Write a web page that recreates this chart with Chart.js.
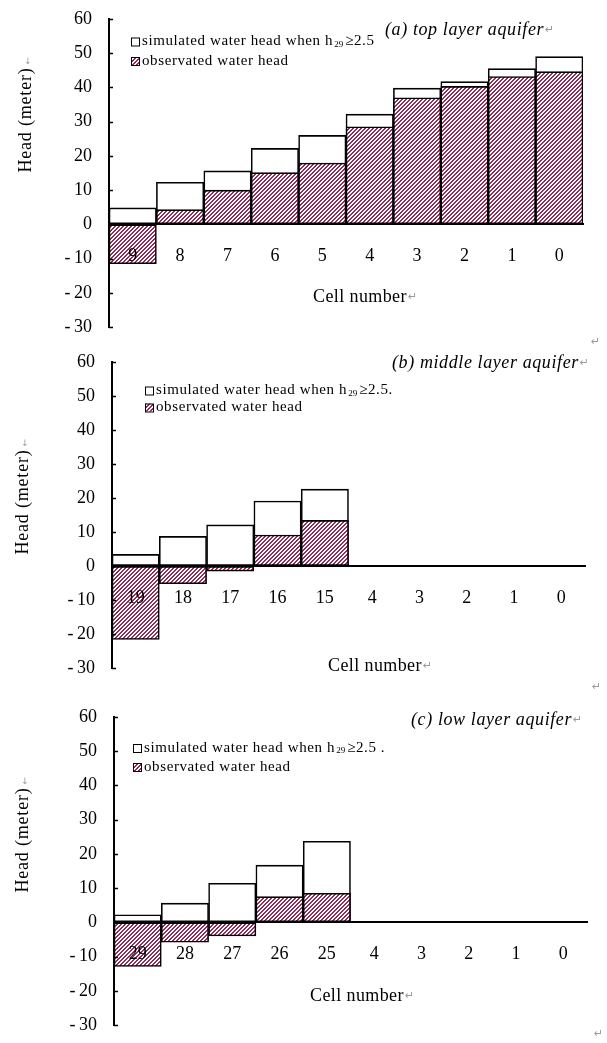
<!DOCTYPE html>
<html>
<head>
<meta charset="utf-8">
<script src="https://cdn.jsdelivr.net/npm/chart.js@4.4.1/dist/chart.umd.min.js"></script>
<style>
  html, body { margin: 0; padding: 0; background: #fff; }
  #page { position: relative; width: 607px; height: 1043px; overflow: hidden; }
  canvas { position: absolute; left: 0; }
  .mark { position: absolute; color: #9a9a9a; font: 11px 'DejaVu Sans', sans-serif; }
</style>
</head>
<body>
<div id="page">
  <canvas id="chartA" width="607" height="340" style="top:0px"></canvas>
  <canvas id="chartB" width="607" height="340" style="top:340px"></canvas>
  <canvas id="chartC" width="607" height="363" style="top:680px"></canvas>
  <span class="mark" style="left:591px;top:335px">↵</span>
  <span class="mark" style="left:592px;top:680px">↵</span>
  <span class="mark" style="left:594px;top:1027px">↵</span>
</div>
<script>
// datos (Head en metros)
const cellsA = ['9', '8', '7', '6', '5', '4', '3', '2', '1', '0'];
const simA = [4.8, 12.3, 15.6, 22.2, 26.0, 32.2, 39.8, 41.7, 45.5, 49.0];
const obsA = [-11.5, 4.3, 10.0, 15.1, 17.9, 28.5, 37.0, 40.3, 43.2, 44.6];

const cellsB = ['19', '18', '17', '16', '15', '4', '3', '2', '1', '0'];
const simB = [3.4, 8.7, 12.1, 19.1, 22.6, null, null, null, null, null];
const obsB = [-21.6, -5.2, -1.5, 9.1, 13.4, null, null, null, null, null];

const cellsC = ['29', '28', '27', '26', '25', '4', '3', '2', '1', '0'];
const simC = [2.2, 5.6, 11.4, 16.7, 23.7, null, null, null, null, null];
const obsC = [-12.9, -5.8, -4.0, 7.5, 8.5, null, null, null, null, null];

const yMin = -30;
const yMax = 60;
const yStep = 10;

const titles = ['(a) top layer aquifer', '(b) middle layer aquifer', '(c) low layer aquifer'];
const simLabel = 'simulated water head when h';
const simSub = '29';
const simTail = ['\u22652.5', '\u22652.5.', '\u22652.5 .'];
const obsLabel = 'observated water head';
const xTitle = 'Cell number';
const yTitle = 'Head (meter)';

const SERIF = "'Liberation Serif', 'Times New Roman', serif";
Chart.defaults.font.family = SERIF;
Chart.defaults.color = '#000';

// trama rayada como en Excel
function makeHatch() {
  const c = document.createElement('canvas');
  c.width = 4; c.height = 4;
  const g = c.getContext('2d');
  g.fillStyle = '#ffffff';
  g.fillRect(0, 0, 4, 4);
  g.fillStyle = '#8f2d5d';
  for (let x = 0; x < 4; x++) {
    for (let y = 0; y < 4; y++) {
      if ((x + y) % 4 < 2) g.fillRect(x, y, 1, 1);
    }
  }
  return g.createPattern(c, 'repeat');
}
const hatch = makeHatch();

// posiciones de cada panel (pixeles del lienzo)
const panels = [
  { id: 'chartA', cells: cellsA, sim: simA, obs: obsA, title: titles[0], tail: simTail[0],
    h: 340, left: 109, right: 583, top: 19, bottom: 327,
    titleX: 385, titleY: 30, legX: 131, legY1: 41.5, legY2: 61,
    cellX: 313, cellY: 297, yTitleX: 26, yTitleY: 120 },
  { id: 'chartB', cells: cellsB, sim: simB, obs: obsB, title: titles[1], tail: simTail[1],
    h: 340, left: 112, right: 585, top: 22, bottom: 328,
    titleX: 392, titleY: 23, legX: 145, legY1: 50.5, legY2: 67.5,
    cellX: 328, cellY: 326, yTitleX: 23, yTitleY: 162 },
  { id: 'chartC', cells: cellsC, sim: simC, obs: obsC, title: titles[2], tail: simTail[2],
    h: 363, left: 114, right: 587, top: 37, bottom: 345,
    titleX: 411, titleY: 40, legX: 133, legY1: 68, legY2: 87,
    cellX: 310, cellY: 316, yTitleX: 23, yTitleY: 160 }
];

function text(ctx, str, x, y, size, opts = {}) {
  ctx.font = (opts.italic ? 'italic ' : '') + size + 'px ' + SERIF;
  ctx.fillStyle = opts.color || '#000';
  ctx.textAlign = opts.align || 'left';
  ctx.textBaseline = 'middle';
  ctx.letterSpacing = (opts.spacing || 0) + 'px';
  ctx.fillText(str, x, y);
  const w = ctx.measureText(str).width;
  ctx.letterSpacing = '0px';
  return w;
}

function returnMark(ctx, x, y) {
  ctx.font = "11px 'DejaVu Sans', sans-serif";
  ctx.fillStyle = '#9a9a9a';
  ctx.textAlign = 'left';
  ctx.textBaseline = 'middle';
  ctx.fillText('\u21B5', x, y);
}

function decorPlugin(p) {
  return {
    id: 'decor',
    afterDraw(chart) {
      const ctx = chart.ctx;
      const ys = chart.scales.y;
      ctx.save();

      // marcas de la escala hacia dentro
      ctx.strokeStyle = '#000';
      ctx.lineWidth = 1.5;
      ys.ticks.forEach(t => {
        const py = Math.round(ys.getPixelForValue(t.value)) + 0.5;
        ctx.beginPath();
        ctx.moveTo(ys.right, py);
        ctx.lineTo(ys.right + 4, py);
        ctx.stroke();
      });

      // titulo del panel
      let w = text(ctx, p.title, p.titleX, p.titleY, 18, { italic: true, spacing: 0.6 });
      returnMark(ctx, p.titleX + w + 1, p.titleY);

      // leyenda
      ctx.lineWidth = 1;
      ctx.fillStyle = '#fff';
      ctx.fillRect(p.legX, p.legY1 - 4, 8, 8);
      ctx.strokeRect(p.legX + 0.5, p.legY1 - 3.5, 8, 8);
      ctx.fillStyle = hatch;
      ctx.fillRect(p.legX, p.legY2 - 4, 8, 8);
      ctx.strokeRect(p.legX + 0.5, p.legY2 - 3.5, 8, 8);

      const tx = p.legX + 11;
      w = text(ctx, simLabel, tx, p.legY1, 15, { spacing: 0.6 });
      const ws = text(ctx, simSub, tx + w + 1, p.legY1 + 3, 9);
      text(ctx, p.tail, tx + w + ws + 3, p.legY1, 15, { spacing: 0.6 });
      text(ctx, obsLabel, tx, p.legY2, 15, { spacing: 0.6 });

      // titulo del eje x
      w = text(ctx, xTitle, p.cellX, p.cellY, 18, { spacing: 0.4 });
      returnMark(ctx, p.cellX + w + 1, p.cellY);

      // titulo del eje y
      ctx.translate(p.yTitleX, p.yTitleY);
      ctx.rotate(-Math.PI / 2);
      w = text(ctx, yTitle, 0, 0, 18, { align: 'center', spacing: 0.8 });
      ctx.rotate(Math.PI / 2);
      ctx.font = "9px 'DejaVu Sans', sans-serif";
      ctx.fillStyle = '#9a9a9a';
      ctx.textAlign = 'center';
      ctx.fillText('\u2193', 2, -w / 2 - 6);

      ctx.restore();
    }
  };
}

panels.forEach(p => {
  new Chart(document.getElementById(p.id), {
    type: 'bar',
    data: {
      labels: p.cells,
      datasets: [
        {
          label: obsLabel,
          data: p.obs,
          backgroundColor: hatch,
          borderColor: '#000',
          borderWidth: 1.6,
          borderSkipped: false,
          grouped: false,
          barPercentage: 1,
          categoryPercentage: 1,
          order: 0
        },
        {
          label: simLabel + simSub + p.tail,
          data: p.sim,
          backgroundColor: '#fff',
          borderColor: '#000',
          borderWidth: 1.6,
          borderSkipped: false,
          grouped: false,
          barPercentage: 1,
          categoryPercentage: 1,
          order: 1
        }
      ]
    },
    options: {
      responsive: false,
      animation: false,
      devicePixelRatio: 1,
      layout: {
        padding: { left: p.left - 60, right: 607 - p.right, top: p.top, bottom: p.h - p.bottom }
      },
      plugins: {
        legend: { display: false },
        tooltip: { enabled: false }
      },
      scales: {
        x: {
          type: 'category',
          position: { y: 0 },
          offset: true,
          grid: { drawOnChartArea: false, drawTicks: false },
          border: { display: true, color: '#000', width: 2 },
          ticks: { color: '#000', font: { size: 18 }, padding: 21, maxRotation: 0, autoSkip: false, z: 1 },
          afterFit(s) {
            s.height = 0;
            s.paddingLeft = 0;
            s.paddingRight = 0;
          }
        },
        y: {
          min: yMin,
          max: yMax,
          grid: { drawOnChartArea: false, drawTicks: false },
          border: { display: true, color: '#000', width: 2 },
          ticks: {
            stepSize: yStep,
            color: '#000',
            font: { size: 18 },
            padding: 17,
            callback: v => (v < 0 ? '-\u2009' + Math.abs(v) : String(v))
          },
          afterFit(s) {
            s.width = 60;
            s.paddingTop = 0;
            s.paddingBottom = 0;
          }
        }
      }
    },
    plugins: [decorPlugin(p)]
  });
});
</script>
</body>
</html>
